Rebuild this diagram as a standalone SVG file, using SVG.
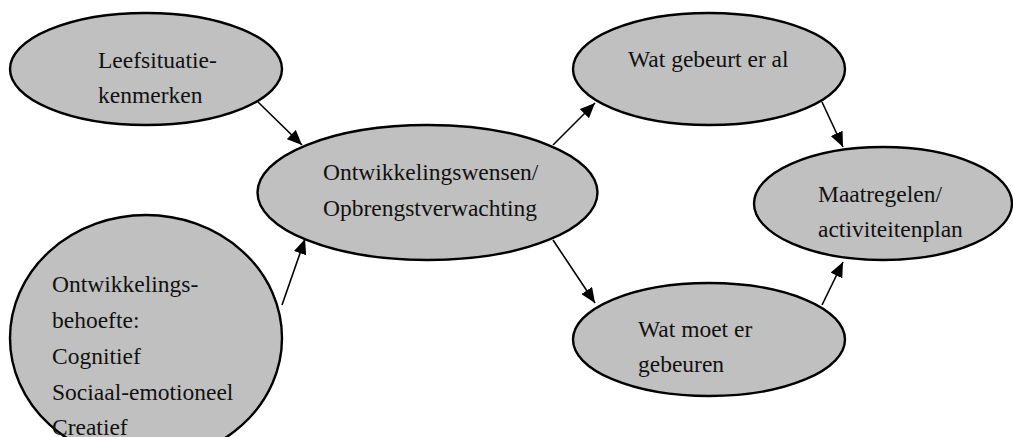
<svg xmlns="http://www.w3.org/2000/svg" width="1013" height="437" viewBox="0 0 1013 437">
<style>
.node ellipse{fill:#c0c0c0;stroke:#000;stroke-width:2.4}
.node text{font-family:'Liberation Serif','DejaVu Serif',serif;font-size:23.5px;fill:#111}
.edge{stroke:#000;stroke-width:1.6;fill:none;marker-end:url(#ah)}
</style>
<defs>
<marker id="ah" markerUnits="userSpaceOnUse" markerWidth="16" markerHeight="13" refX="15" refY="6.5" orient="auto">
<path d="M0,0 L15,6.5 L0,13 z" fill="#000"/>
</marker>
</defs>
<rect width="1013" height="437" fill="#fff"/>
<g id="n-leefsituatie" class="node">
<ellipse cx="146" cy="69" rx="136" ry="56"/>
<text x="98" y="68" font-family="Liberation Serif">Leefsituatie-</text>
<text x="98" y="103" font-family="Liberation Serif">kenmerken</text>
</g>
<g id="n-behoefte" class="node">
<ellipse cx="146" cy="338" rx="136" ry="123"/>
<text x="52" y="292" font-family="Liberation Serif">Ontwikkelings-</text>
<text x="52" y="328" font-family="Liberation Serif">behoefte:</text>
<text x="52" y="364" font-family="Liberation Serif">Cognitief</text>
<text x="52" y="400" font-family="Liberation Serif">Sociaal-emotioneel</text>
<text x="52" y="435" font-family="Liberation Serif">Creatief</text>
</g>
<g id="n-wensen" class="node">
<ellipse cx="427.5" cy="192.5" rx="170" ry="67.5"/>
<text x="323" y="180" font-family="Liberation Serif">Ontwikkelingswensen/</text>
<text x="323" y="216" font-family="Liberation Serif">Opbrengstverwachting</text>
</g>
<g id="n-gebeurt" class="node">
<ellipse cx="709" cy="69" rx="136" ry="56"/>
<text x="628" y="67" font-family="Liberation Serif">Wat gebeurt er al</text>
</g>
<g id="n-moet" class="node">
<ellipse cx="709" cy="339.5" rx="136" ry="56.5"/>
<text x="638" y="337" font-family="Liberation Serif">Wat moet er</text>
<text x="638" y="372" font-family="Liberation Serif">gebeuren</text>
</g>
<g id="n-maatregelen" class="node">
<ellipse cx="883" cy="203.5" rx="129" ry="56.5"/>
<text x="818" y="202" font-family="Liberation Serif">Maatregelen/</text>
<text x="818" y="237" font-family="Liberation Serif">activiteitenplan</text>
</g>
<g id="connectors">
<line class="edge" x1="258" y1="102" x2="302" y2="145"/>
<line class="edge" x1="282" y1="305" x2="305" y2="239"/>
<line class="edge" x1="553" y1="145" x2="595" y2="103"/>
<line class="edge" x1="553" y1="240" x2="595" y2="303"/>
<line class="edge" x1="822" y1="102" x2="843" y2="147"/>
<line class="edge" x1="822" y1="305" x2="843" y2="262"/>
</g>
</svg>
